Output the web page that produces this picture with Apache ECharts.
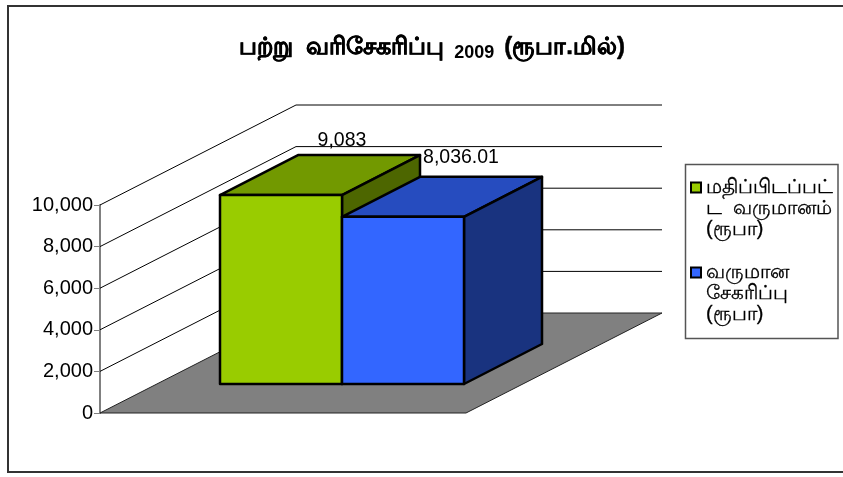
<!DOCTYPE html>
<html><head><meta charset="utf-8">
<style>html,body{margin:0;padding:0;background:#fff}#c{width:843px;height:477px}</style>
<script src="https://cdn.jsdelivr.net/npm/echarts@6/dist/echarts.min.js"></script>
</head><body><div id="c"></div>
<script>
const categories = ['2009'];
const assessedIncome = [9083];
const collectedIncome = [8036.01];
const valueTicks = [0, 2000, 4000, 6000, 8000, 10000];
const seriesNames = ['மதிப்பிடப்பட்\nட  வருமானம்\n(ரூபா)', 'வருமான\nசேகரிப்பு\n(ரூபா)'];
const titleMain = 'பற்று  வரிசேகரிப்பு';
const titleYear = '2009';
const titleUnit = '(ரூபா.மில்)';

const FONT = '"Liberation Sans", Arial, sans-serif';
const WALL = [196, -100];        // full depth of the floor
const BAR_START = [59, -29];     // where bars start in depth
const BAR_DEPTH = [78, -40];     // depth of a bar
const LABEL_SHIFT = [[-17, -14], [-20, -19]];
const COLORS = [
  {front: '#99CC00', top: '#729900', side: '#4D6600'},
  {front: '#3366FF', top: '#264CBF', side: '#19337F'}
];
const fmt = v => v.toLocaleString('en-US', {maximumFractionDigits: 2});
const poly = (points, fill, stroke, lineWidth) => ({
  type: 'polygon', shape: {points}, style: {fill, stroke, lineWidth, lineJoin: 'round'}
});

function renderWall(params, api) {
  const v = api.value(0), cs = params.coordSys;
  const y = api.coord([0, v])[1];
  const x0 = cs.x, x1 = cs.x + cs.width;
  const children = [];
  if (v === 0) {
    children.push(poly([[x0, y], [x1, y], [x1 + WALL[0], y + WALL[1]], [x0 + WALL[0], y + WALL[1]]], '#808080', '#222', 1));
  } else {
    children.push({type: 'polyline', shape: {points: [[x0, y], [x0 + WALL[0], y + WALL[1]], [x1 + WALL[0], y + WALL[1]]]},
      style: {fill: 'none', stroke: '#000', lineWidth: 1}});
  }
  return {type: 'group', children};
}

function renderBar(idx) {
  return function (params, api) {
    const cx = api.coord([api.value(0), 0])[0];
    const base = api.coord([api.value(0), 0])[1];
    const w = api.size([1, 0])[0] / 3;
    const val = api.value(1);
    const h = base - api.coord([api.value(0), val])[1];
    const x0 = cx - w + idx * w + BAR_START[0], x1 = x0 + w;
    const yb = base + BAR_START[1], yt = yb - h;
    const dx = BAR_DEPTH[0], dy = BAR_DEPTH[1], c = COLORS[idx];
    return {type: 'group', children: [
      poly([[x0, yt], [x1, yt], [x1 + dx, yt + dy], [x0 + dx, yt + dy]], c.top, '#000', 2.5),
      poly([[x1, yt], [x1 + dx, yt + dy], [x1 + dx, yb + dy], [x1, yb]], c.side, '#000', 2.5),
      poly([[x0, yt], [x1, yt], [x1, yb], [x0, yb]], c.front, '#000', 2.5),
      {type: 'text', style: {
        text: fmt(val), x: (x0 + x1) / 2 + dx + LABEL_SHIFT[idx][0], y: yt + dy + LABEL_SHIFT[idx][1],
        align: 'center', verticalAlign: 'middle', fill: '#000', font: '19.5px ' + FONT}, z2: 50}
    ]};
  };
}

const chart = echarts.init(document.getElementById('c'), null, {renderer: 'canvas'});
chart.setOption({
  animation: false,
  backgroundColor: '#fff',
  title: {
    left: 427, top: 27, textAlign: 'center',
    text: '{a|' + titleMain + '}  {b|' + titleYear + '}  {a|' + titleUnit + '}',
    textStyle: {rich: {
      a: {fontFamily: FONT, fontSize: 24, fontWeight: 'bold', color: '#000', textBorderColor: '#000', textBorderWidth: 0.5},
      b: {fontFamily: FONT, fontSize: 18, fontWeight: 'bold', color: '#000', verticalAlign: 'bottom', lineHeight: 30}
    }}
  },
  grid: {left: 100, top: 205, width: 366, height: 208, containLabel: false},
  xAxis: {type: 'category', data: categories, axisLine: {show: false}, axisTick: {show: false}, axisLabel: {show: false}, splitLine: {show: false}},
  yAxis: {
    type: 'value', min: 0, max: 10000, interval: 2000,
    axisLine: {show: true, lineStyle: {color: '#808080', width: 2}},
    axisTick: {show: true, length: 6, lineStyle: {color: '#808080', width: 1}},
    splitLine: {show: false},
    axisLabel: {margin: 7, color: '#000', fontFamily: FONT, fontSize: 20, formatter: v => fmt(v)}
  },
  legend: {
    orient: 'vertical', left: 690, top: 135, padding: 0, itemGap: -20, itemWidth: 10, itemHeight: 10,
    icon: 'rect', selectedMode: false,
    data: seriesNames,
    itemStyle: {borderColor: '#000', borderWidth: 2},
    textStyle: {color: '#000', fontFamily: FONT, fontSize: 20, lineHeight: 21, padding: [0, 0, 0, 0], textBorderColor: '#000', textBorderWidth: 0.3},
    formatter: n => '\n\n' + n
  },
  graphic: [
    {type: 'rect', z: -10, shape: {x: 8, y: 6, width: 840, height: 466}, style: {fill: 'none', stroke: '#333', lineWidth: 2}},
    {type: 'rect', z: -10, shape: {x: 685.5, y: 164.5, width: 152.5, height: 174}, style: {fill: '#fff', stroke: '#555', lineWidth: 1.5}}
  ],
  series: [
    {type: 'custom', name: 'wall', silent: true, renderItem: renderWall, data: valueTicks.map(v => [v]), encode: {y: 0}, clip: false, z: 1, legendHoverLink: false},
    {type: 'custom', name: seriesNames[0], renderItem: renderBar(0), data: assessedIncome.map((v, i) => [i, v]), encode: {x: 0, y: 1}, clip: false, z: 2, itemStyle: {color: COLORS[0].front}},
    {type: 'custom', name: seriesNames[1], renderItem: renderBar(1), data: collectedIncome.map((v, i) => [i, v]), encode: {x: 0, y: 1}, clip: false, z: 3, itemStyle: {color: COLORS[1].front}}
  ]
});
</script></body></html>
